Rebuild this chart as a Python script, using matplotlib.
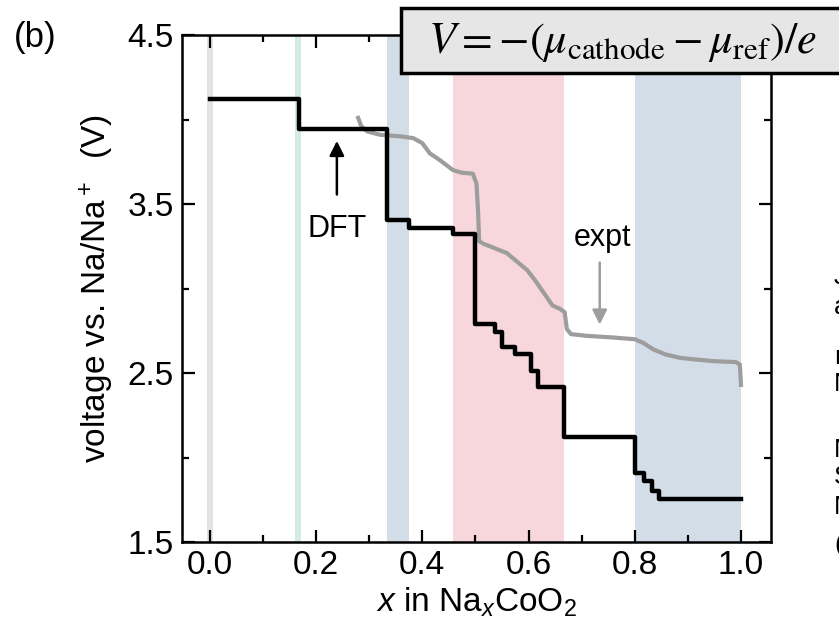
import matplotlib.pyplot as plt
import matplotlib.patches as patches
from matplotlib.ticker import MultipleLocator

plt.rcParams['font.family'] = ['Liberation Sans', 'DejaVu Sans']
plt.rcParams['mathtext.fontset'] = 'custom'
plt.rcParams['mathtext.rm'] = 'Liberation Sans'
plt.rcParams['mathtext.it'] = 'Liberation Sans:italic'
plt.rcParams['font.size'] = 24

# DFT convex-hull voltage steps (each value holds from x_dft[i] to the next x)
x_dft = [0.0, 0.167, 0.333, 0.375, 0.458, 0.5, 0.536, 0.55, 0.575, 0.604,
         0.618, 0.667, 0.8, 0.818, 0.833, 0.846, 1.0]
v_dft = [4.12, 3.945, 3.405, 3.36, 3.32, 2.79, 2.745, 2.655, 2.61, 2.51,
         2.42, 2.12, 1.91, 1.86, 1.80, 1.755, 1.755]

# experimental charge curve
x_expt = [0.279, 0.285, 0.296, 0.32, 0.36, 0.383, 0.40, 0.414, 0.433, 0.458,
          0.475, 0.495, 0.502, 0.505, 0.507, 0.515, 0.527, 0.559, 0.597, 0.612,
          0.634, 0.645, 0.659, 0.668, 0.672, 0.68, 0.71, 0.76, 0.80, 0.815,
          0.835, 0.858, 0.885, 0.915, 0.95, 0.99, 0.998, 1.0]
v_expt = [4.01, 3.96, 3.93, 3.91, 3.90, 3.89, 3.86, 3.80, 3.76, 3.70,
          3.685, 3.68, 3.62, 3.45, 3.28, 3.265, 3.25, 3.21, 3.11, 3.05,
          2.95, 2.90, 2.88, 2.86, 2.76, 2.73, 2.72, 2.71, 2.70, 2.68,
          2.64, 2.61, 2.59, 2.58, 2.57, 2.565, 2.55, 2.43]

# stable / two-phase regions along x
band_lo = [-0.005, 0.161, 0.333, 0.458, 0.8]
band_hi = [0.005, 0.172, 0.375, 0.667, 1.0]
band_col = ['#e3e3e3', '#d3ebe2', '#d3dde7', '#f7d7dc', '#d3dde7']

fig = plt.figure(figsize=(8.39, 6.28), dpi=100)
ax = fig.add_axes([0.2169, 0.1369, 0.702, 0.8073])

for lo, hi, c in zip(band_lo, band_hi, band_col):
    ax.axvspan(lo, hi, color=c, lw=0, zorder=0)

ax.step(x_dft, v_dft, where='post', color='black', lw=3.2, zorder=3)
ax.plot(x_expt, v_expt, color='#9d9d9d', lw=3.0, zorder=2)

ax.annotate('', xy=(0.239, 3.89), xytext=(0.239, 3.54),
            arrowprops=dict(arrowstyle='-|>', color='black', lw=1.8, mutation_scale=22))
ax.text(0.239, 3.35, 'DFT', ha='center', va='center', fontsize=22)
ax.annotate('', xy=(0.734, 2.77), xytext=(0.734, 3.17),
            arrowprops=dict(arrowstyle='-|>', color='#9d9d9d', lw=1.8, mutation_scale=22))
ax.text(0.74, 3.30, 'expt', ha='center', va='center', fontsize=22)

ax.set_xlim(-0.0527, 1.0565)
ax.set_ylim(1.5, 4.5)
ax.xaxis.set_minor_locator(MultipleLocator(0.1))
ax.set_xticks([0.0, 0.2, 0.4, 0.6, 0.8, 1.0])
ax.set_xticklabels(['0.0', '0.2', '0.4', '0.6', '0.8', '1.0'])
ax.set_yticks([1.5, 2.5, 3.5, 4.5])
ax.set_yticks([2.0, 3.0, 4.0], minor=True)
ax.tick_params(which='both', direction='in', top=True, right=True, width=1.6)
ax.tick_params(which='major', length=9, labelsize=24, pad=6)
ax.tick_params(which='minor', length=5)
for s in ax.spines.values():
    s.set_linewidth(1.8)

ax.set_xlabel(r'$x$ in Na$_x$CoO$_2$', fontsize=24, labelpad=3)
ax.set_ylabel(r'voltage vs. Na/Na$^+$  (V)', fontsize=24, labelpad=8)

fig.text(0.042, 0.94, '(b)', ha='center', va='center', fontsize=25)

# formula box running off the right edge
box = patches.Rectangle((401 / 839, 1 - 73 / 628), 0.6, 65 / 628,
                        transform=fig.transFigure, facecolor='#e6e6e6',
                        edgecolor='black', lw=2.5, clip_on=False, zorder=5)
fig.add_artist(box)
fig.text(0.742, 0.933, r'$V = -(\mu_{\mathrm{cathode}} - \mu_{\mathrm{ref}})/e$',
         ha='center', va='center', fontsize=32, math_fontfamily='stix', zorder=6)

# neighbouring panel text, cut at the figure edge
side_y = [277, 307, 357, 384, 450, 477, 507, 545]
side_txt = ['J', 'a', 'n', 'N', 'N', 'S', 'N', '(']
for yy, t in zip(side_y, side_txt):
    fig.text(834 / 839, 1 - yy / 628, t, ha='left', va='center', fontsize=19)

fig.savefig('out.png', dpi=100)
